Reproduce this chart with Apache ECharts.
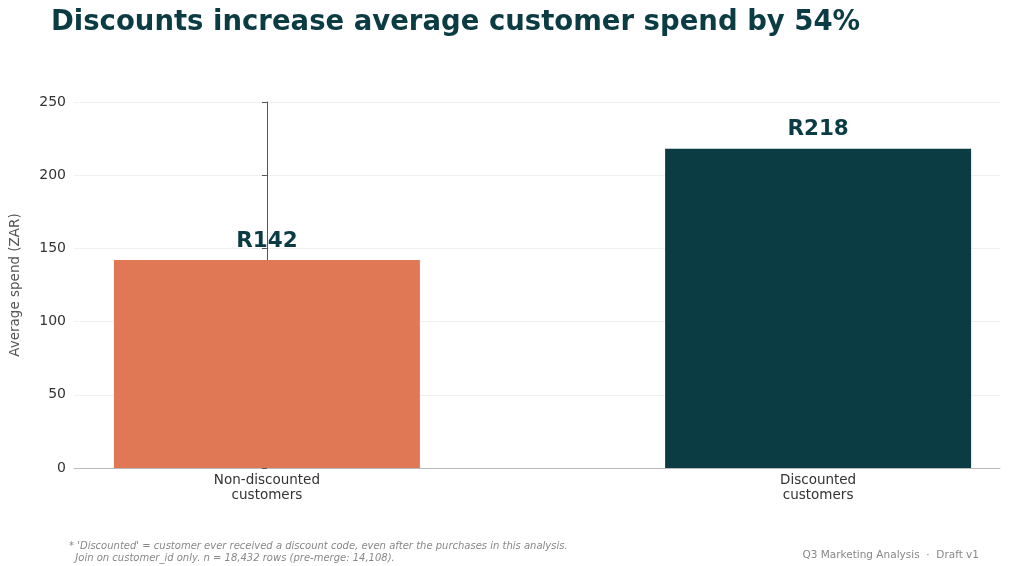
<!DOCTYPE html>
<html>
<head>
<meta charset="UTF-8">
<title>Discounts</title>
<script src="https://cdn.jsdelivr.net/npm/echarts@6/dist/echarts.min.js"></script>
<style>
  html, body { margin: 0; padding: 0; background: #fff; }
  #chart { width: 1024px; height: 566px; }
</style>
</head>
<body>
<div id="chart"></div>
<script>
// data
var categories = ['Non-discounted\ncustomers', 'Discounted\ncustomers'];
var spend = [142, 218];
var barColors = ['#e07856', '#0b3c43'];

var chart = echarts.init(document.getElementById('chart'));
var font = 'DejaVu Sans';

var option = {
  textStyle: { fontFamily: font },
  title: [{
    text: 'Discounts increase average customer spend by 54%',
    left: 46, top: 4,
    textStyle: { fontSize: 27.5, fontWeight: 'bold', color: '#0b3c43', fontFamily: font }
  }, {
    text: "* 'Discounted' = customer ever received a discount code, even after the purchases in this analysis.\n  Join on customer_id only. n = 18,432 rows (pre-merge: 14,108).",
    left: 64, top: 535,
    textStyle: { fontSize: 10, fontStyle: 'italic', fontWeight: 'normal', color: '#888', fontFamily: font, lineHeight: 12 }
  }, {
    text: 'Q3 Marketing Analysis  ·  Draft v1',
    right: 40, top: 545,
    textStyle: { fontSize: 10.5, fontWeight: 'normal', color: '#888', fontFamily: font }
  }],
  grid: { left: 67, right: 24, top: 102, bottom: 98 },
  xAxis: {
    type: 'value',
    min: -0.35, max: 1.33,
    splitLine: { show: false },
    axisLine: { show: true, lineStyle: { color: '#bbb' } },
    axisTick: { show: false },
    axisLabel: {
      customValues: [0, 1],
      formatter: function (v) { return categories[Math.round(v)]; },
      fontSize: 13.5, color: '#333', lineHeight: 15, margin: 5, fontFamily: font
    }
  },
  yAxis: {
    type: 'value',
    min: 0, max: 250, interval: 50,
    name: 'Average spend (ZAR)',
    nameLocation: 'middle',
    nameGap: 52,
    nameTextStyle: { fontSize: 13.5, color: '#555', fontFamily: font },
    axisLabel: { fontSize: 14, color: '#333', margin: 8, fontFamily: font },
    splitLine: { lineStyle: { color: '#f0f0f0' } }
  },
  series: [{
    type: 'bar',
    barWidth: 306,
    data: spend.map(function (v, i) {
      return { value: [i, v], itemStyle: { color: barColors[i] } };
    }),
    label: {
      show: true,
      position: 'top',
      distance: 8,
      formatter: function (p) { return 'R' + p.value[1]; },
      fontSize: 21.5, fontWeight: 'bold', color: '#0b3c43', fontFamily: font
    }
  }]
};

chart.setOption(option);
</script>
</body>
</html>
